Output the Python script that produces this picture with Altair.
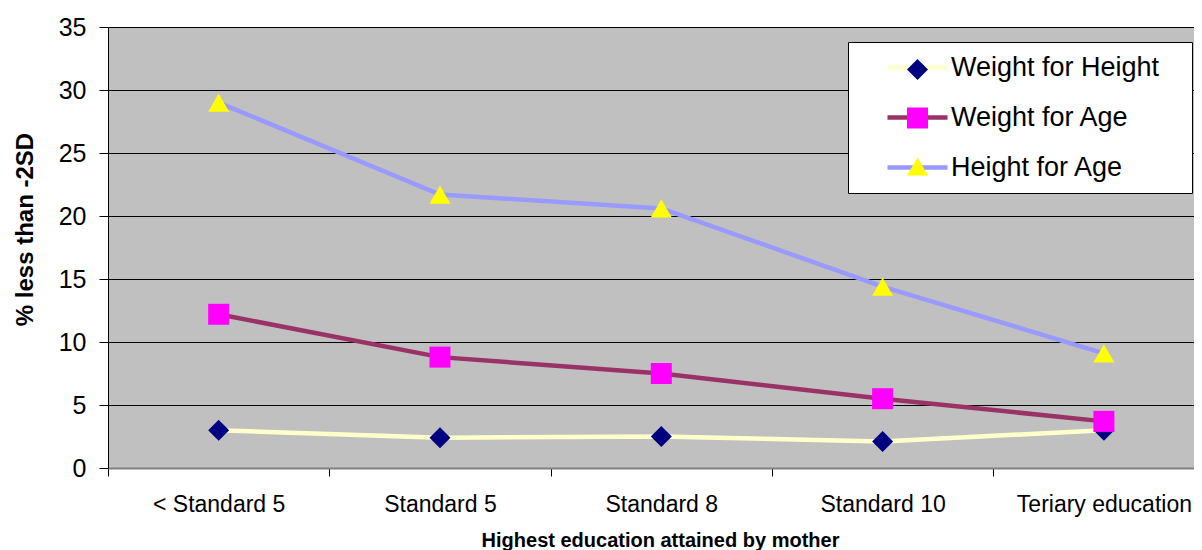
import json
import altair as alt
import pandas as pd

categories = ["< Standard 5", "Standard 5", "Standard 8", "Standard 10", "Teriary education"]
series_names = ["Weight for Height", "Weight for Age", "Height for Age"]
weight_for_height = [3.0, 2.4, 2.5, 2.1, 3.0]
weight_for_age = [12.2, 8.8, 7.5, 5.5, 3.7]
height_for_age = [29.0, 21.7, 20.6, 14.4, 9.1]
y_ticks = [0, 5, 10, 15, 20, 25, 30, 35]

line_colors = ["#FFFFCC", "#993366", "#9999FF"]
marker_colors = ["#000080", "#FF00FF", "#FFFF00"]
marker_shapes = ["diamond", "square", "triangle-up"]

marker_names = [n + " marker" for n in series_names]

rows = []
for name, mname, vals in zip(series_names, marker_names,
                             [weight_for_height, weight_for_age, height_for_age]):
    for i, v in enumerate(vals):
        rows.append({"idx": i, "cat": categories[i], "value": v, "Series": name, "Marker": mname})
df = pd.DataFrame(rows)

FONT = "Liberation Sans"
cats_js = json.dumps(categories)

x_enc = alt.X(
    "idx:Q",
    scale=alt.Scale(domain=[-0.5, 4.407], nice=False, zero=False),
    axis=alt.Axis(
        title="Highest education attained by mother",
        values=[-0.5, 0, 0.5, 1, 1.5, 2, 2.5, 3, 3.5, 4],
        labelExpr=f"datum.value % 1 === 0 ? {cats_js}[datum.value] : ''",
        tickOpacity={"condition": {"test": "datum.value % 1 !== 0", "value": 1}, "value": 0},
        tickSize=8,
        tickColor="black",
        domainColor="#808080",
        domainWidth=2,
        grid=False,
        labelFont=FONT,
        labelFontSize=23,
        labelColor="black",
        labelPadding=17,
        labelFlush=False,
        labelOverlap=False,
        titleFont=FONT,
        titleFontSize=20,
        titleFontWeight="bold",
        titleColor="black",
        titleX=552,
        titleY=78,
        titleAlign="center",
        titleBaseline="alphabetic",
    ),
)

y_enc = alt.Y(
    "value:Q",
    scale=alt.Scale(domain=[0, 35], nice=False),
    axis=alt.Axis(
        title="% less than -2SD",
        values=y_ticks,
        tickSize=9,
        tickColor="black",
        domainColor="black",
        gridColor="black",
        gridWidth=1,
        labelFont=FONT,
        labelFontSize=25,
        labelColor="black",
        labelPadding=13,
        titleFont=FONT,
        titleFontSize=24,
        titleFontWeight="bold",
        titleColor="black",
        titleAngle=270,
        titleX=-83,
        titleY=202,
        titleAlign="center",
        titleBaseline="middle",
    ),
)

LEG_X = 740
LEG_Y = 15

lines = alt.Chart(df).mark_line(strokeWidth=4.5).encode(
    x=x_enc,
    y=y_enc,
    color=alt.Color(
        "Series:N",
        scale=alt.Scale(domain=series_names, range=line_colors),
        legend=alt.Legend(
            orient="none",
            legendX=LEG_X,
            legendY=LEG_Y,
            title=None,
            symbolSize=441,
            symbolType="M-2.86,0H2.86",
            symbolStrokeWidth=4.5,
            labelFont=FONT,
            labelFontSize=27,
            labelColor="black",
            labelOffset=20,
            labelLimit=600,
            padding=12,
            symbolOffset=44,
            rowPadding=22,
            fillColor="white",
            strokeColor="black",
            labelExpr="datum.label + '\u2800'",
            zindex=0,
        ),
    ),
)

marker_legend = alt.Legend(
    orient="none",
    legendX=LEG_X,
    legendY=LEG_Y + 2,
    title=None,
    symbolSize=441,
    symbolStrokeWidth=0,
    labelExpr="''",
    labelFontSize=27,
    labelOffset=20,
    padding=12,
    symbolOffset=44,
    rowPadding=20.5,
    zindex=1,
)

points = alt.Chart(df).mark_point(filled=True, size=441, opacity=1).encode(
    x=x_enc,
    y=y_enc,
    fill=alt.Fill(
        "Marker:N",
        scale=alt.Scale(domain=marker_names, range=marker_colors),
        legend=marker_legend,
    ),
    shape=alt.Shape(
        "Marker:N",
        scale=alt.Scale(domain=marker_names, range=marker_shapes),
        legend=marker_legend,
    ),
)

chart = (
    alt.layer(lines, points)
    .resolve_legend(color="independent", fill="independent", shape="independent")
    .properties(
        width=1086,
        height=441,
        autosize=alt.AutoSizeParams(type="none"),
        padding={"left": 100, "top": 19, "right": 0, "bottom": 82},
        background="white",
    )
    .configure_view(fill="#C0C0C0", stroke="#808080", strokeWidth=1)
)

chart.save("out.html", embed_options={"renderer": "svg", "actions": False})
